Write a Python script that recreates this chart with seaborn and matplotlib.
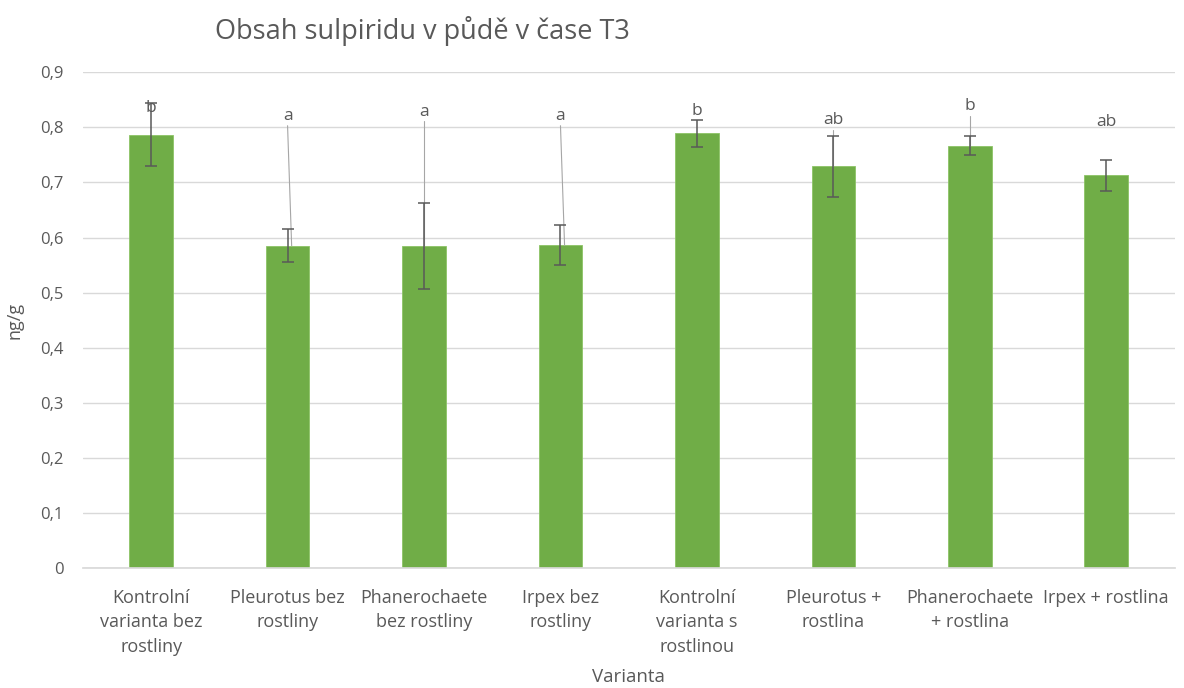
import matplotlib
matplotlib.use("Agg")
import matplotlib.pyplot as plt
import seaborn as sns
import pandas as pd
from matplotlib.ticker import FuncFormatter, MultipleLocator

categories = ["Kontrolní\nvarianta bez\nrostliny", "Pleurotus bez\nrostliny",
              "Phanerochaete\nbez rostliny", "Irpex bez\nrostliny",
              "Kontrolní\nvarianta s\nrostlinou", "Pleurotus +\nrostlina",
              "Phanerochaete\n+ rostlina", "Irpex + rostlina"]
values = [0.787, 0.585, 0.584, 0.586, 0.789, 0.729, 0.767, 0.713]
errors = [0.057, 0.030, 0.078, 0.036, 0.025, 0.055, 0.018, 0.028]
letters = ["b", "a", "a", "a", "b", "ab", "b", "ab"]
letter_y = [0.835, 0.820, 0.828, 0.820, 0.829, 0.813, 0.838, 0.810]
leader = [False, True, True, True, False, True, True, False]

sns.set_theme(style="white")
plt.rcParams['font.family'] = ['Open Sans', 'DejaVu Sans']
txt = "#595959"

fig = plt.figure(figsize=(11.84, 6.88), dpi=100)
ax = fig.add_axes([0.070, 0.174, 0.922, 0.721])

df = pd.DataFrame({"cat": categories, "val": values})
sns.barplot(data=df, x="cat", y="val", color="#70AD47", width=0.32,
            errorbar=None, saturation=1, ax=ax, edgecolor="#8CC466", linewidth=0.6)

xs = list(range(len(categories)))
ax.errorbar(xs, values, yerr=errors, fmt="none", ecolor="#595959",
            elinewidth=1.1, capsize=4, capthick=1.1, zorder=4)

for i, (v, e, l, ly, ld) in enumerate(zip(values, errors, letters, letter_y, leader)):
    ax.text(i, ly, l, ha="center", va="center", fontsize=12.5, color=txt, zorder=5)
    if ld:
        ax.plot([i, i + (0.03 if i in (1, 3) else 0)], [ly - 0.017, v],
                color="#A6A6A6", lw=0.8, zorder=3)

ax.set_ylim(0, 0.9)
ax.set_xlim(-0.5, len(categories) - 0.5)
ax.yaxis.set_major_locator(MultipleLocator(0.1))
ax.yaxis.set_major_formatter(FuncFormatter(lambda y, p: "0" if abs(y) < 1e-9 else f"{y:.1f}".replace(".", ",")))
ax.grid(axis="y", color="#D9D9D9", lw=1)
ax.set_axisbelow(True)
for s in ["top", "right", "left"]:
    ax.spines[s].set_visible(False)
ax.spines["bottom"].set_color("#D9D9D9")
ax.tick_params(axis="both", length=0, colors=txt)
ax.tick_params(axis="y", pad=14, labelsize=12)
ax.tick_params(axis="x", pad=15, labelsize=13)
for t in ax.get_xticklabels():
    t.set_linespacing(1.45)

ax.set_xlabel("Varianta", fontsize=13.5, color=txt, labelpad=9)
ax.set_ylabel("ng/g", fontsize=13, color=txt, labelpad=12)
fig.text(0.357, 0.955, "Obsah sulpiridu v půdě v čase T3", ha="center", va="center",
         fontsize=19.5, color=txt)

fig.savefig("out.png", dpi=100)
